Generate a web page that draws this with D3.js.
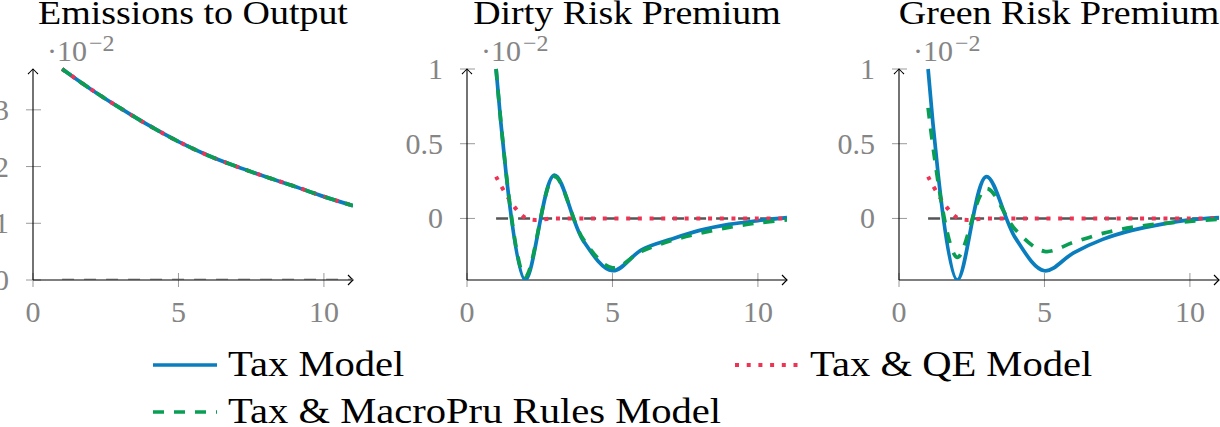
<!DOCTYPE html>
<html>
<head>
<meta charset="utf-8">
<script src="https://cdn.jsdelivr.net/npm/d3@7"></script>
<style>
  html, body { margin: 0; padding: 0; background: #fff; }
  svg { display: block; }
</style>
</head>
<body>
<svg id="chart" width="1220" height="427" font-family="'Liberation Serif', 'DejaVu Serif', serif"></svg>
<script>
// Periods after the shock
const periods = [1, 2, 3, 4, 5, 6, 7, 8, 9, 10, 11];

// Emissions to output (x 10^-2)
const emisTax = [3.72, 3.36, 3.03, 2.72, 2.44, 2.20, 2.00, 1.82, 1.65, 1.47, 1.31];
const emisQE  = [3.72, 3.36, 3.03, 2.72, 2.44, 2.20, 2.00, 1.82, 1.65, 1.47, 1.31];
const emisMP  = [3.72, 3.36, 3.03, 2.72, 2.44, 2.20, 2.00, 1.82, 1.65, 1.47, 1.31];

// Dirty risk premium (x 10^-2)
const dirtyTax = [1.00, -0.412, 0.29, -0.15, -0.35, -0.21, -0.14, -0.08, -0.04, -0.015, 0.005];
const dirtyQE  = [0.28, 0.005, 0.0, 0.0, 0.0, 0.0, 0.0, 0.0, 0.0, 0.0, 0.0];
const dirtyMP  = [1.00, -0.39, 0.28, -0.14, -0.33, -0.22, -0.15, -0.10, -0.06, -0.03, -0.01];

// Green risk premium (x 10^-2)
const greenTax = [1.00, -0.412, 0.28, -0.13, -0.35, -0.23, -0.14, -0.08, -0.04, -0.01, 0.005];
const greenQE  = [0.28, 0.005, 0.0, 0.0, 0.0, 0.0, 0.0, 0.0, 0.0, 0.0, 0.0];
const greenMP  = [0.74, -0.26, 0.20, -0.075, -0.22, -0.16, -0.10, -0.06, -0.035, -0.02, -0.005];

// Steady-state reference line
const steadyState = [0, 0, 0, 0, 0, 0, 0, 0, 0, 0, 0];

// Tick values
const xTicks = [0, 5, 10];
const yTicksEmis = [0, 1, 2, 3];
const yTicksPrem = [0, 0.5, 1];

const titles = ["Emissions to Output", "Dirty Risk Premium", "Green Risk Premium"];
const seriesNames = ["Tax Model", "Tax & QE Model", "Tax & MacroPru Rules Model"];

const panels = [
  { title: titles[0], series: [emisTax, emisQE, emisMP], yTicks: yTicksEmis, left: 33 },
  { title: titles[1], series: [dirtyTax, dirtyQE, dirtyMP], yTicks: yTicksPrem, left: 467 },
  { title: titles[2], series: [greenTax, greenQE, greenMP], yTicks: yTicksPrem, left: 899 }
];

const styles = [
  { color: "#0a7dbe", dash: null, width: 3.7 },
  { color: "#ee3355", dash: "4 7.7", width: 4 },
  { color: "#0a9e55", dash: "11 10", width: 3.7 }
];

const plotW = 320, plotTop = 69, plotBottom = 280;
const svg = d3.select("#chart");

// Text set in a slightly wider face: horizontal stretch around the anchor point
function wideText(parent, x, y, str, size, sx, anchor) {
  return parent.append("text")
    .attr("transform", `translate(${x},${y}) scale(${sx},1)`)
    .attr("text-anchor", anchor || "start")
    .attr("font-size", size)
    .attr("fill", "#000")
    .text(str);
}

// Arrow tip used on the axis lines
svg.append("defs").append("marker")
  .attr("id", "tip")
  .attr("viewBox", "-6 -6 8 12")
  .attr("markerWidth", 8).attr("markerHeight", 12)
  .attr("markerUnits", "userSpaceOnUse")
  .attr("refX", 0).attr("refY", 0)
  .attr("orient", "auto")
  .append("path")
  .attr("d", "M-5,-5 Q-1.2,-1 0,0 Q-1.2,1 -5,5")
  .attr("fill", "none").attr("stroke", "#000").attr("stroke-width", 1.1);

panels.forEach((p, i) => {
  const g = svg.append("g");
  const allVals = p.series.flat().concat(steadyState);
  const x = d3.scaleLinear().domain([0, d3.max(periods)]).range([p.left, p.left + plotW]);
  const y = d3.scaleLinear().domain(d3.extent(allVals)).range([plotBottom, plotTop]);

  const clipId = "clip" + i;
  g.append("clipPath").attr("id", clipId).append("rect")
    .attr("x", x.range()[0]).attr("y", plotTop - 2)
    .attr("width", plotW).attr("height", plotBottom - plotTop + 2);

  // Tick marks
  g.selectAll(".xt").data(xTicks).join("line")
    .attr("x1", d => x(d)).attr("x2", d => x(d))
    .attr("y1", plotBottom - 7).attr("y2", plotBottom + 7)
    .attr("stroke", "#9a9a9a").attr("stroke-width", 1);
  g.selectAll(".yt").data(p.yTicks).join("line")
    .attr("x1", p.left - 7).attr("x2", p.left + 8)
    .attr("y1", d => y(d)).attr("y2", d => y(d))
    .attr("stroke", "#9a9a9a").attr("stroke-width", 1);

  // Tick labels
  g.selectAll(".xl").data(xTicks).join("text")
    .attr("x", d => x(d)).attr("y", plotBottom + 42)
    .attr("text-anchor", "middle")
    .attr("font-size", 30).attr("fill", "#858585")
    .text(d => d3.format("~g")(d));
  g.selectAll(".yl").data(p.yTicks).join("text")
    .attr("x", p.left - 24).attr("y", d => y(d) + 10)
    .attr("text-anchor", "end")
    .attr("font-size", 30).attr("fill", "#858585")
    .text(d => d3.format("~g")(d));

  // Scale factor label
  const sc = g.append("text")
    .attr("x", p.left + 14).attr("y", 61)
    .attr("font-size", 30).attr("fill", "#858585");
  sc.append("tspan").text("·10");
  sc.append("tspan").attr("dx", 2).attr("dy", -10).attr("font-size", 24).text("−2");

  // Title
  wideText(g, p.left + plotW / 2, 24, p.title, 33, 1.15, "middle");

  // Axes with arrow tips
  g.append("line")
    .attr("x1", x(0)).attr("x2", x(d3.max(periods)))
    .attr("y1", plotBottom).attr("y2", plotBottom)
    .attr("stroke", "#000").attr("stroke-width", 1.1)
    .attr("marker-end", "url(#tip)");
  g.append("line")
    .attr("x1", p.left).attr("x2", p.left)
    .attr("y1", plotBottom).attr("y2", plotTop)
    .attr("stroke", "#000").attr("stroke-width", 1.1)
    .attr("marker-end", "url(#tip)");

  const line = d3.line()
    .x((d, k) => x(periods[k]))
    .y(d => y(d))
    .curve(d3.curveCatmullRom.alpha(0.5));

  const plot = g.append("g").attr("clip-path", `url(#${clipId})`);

  // Steady-state line
  plot.append("path")
    .attr("d", d3.line().x((d, k) => x(periods[k])).y(d => y(d))(steadyState))
    .attr("fill", "none").attr("stroke", "#555")
    .attr("stroke-width", 2.6).attr("stroke-dasharray", "12 10");

  p.series.forEach((s, k) => {
    plot.append("path")
      .attr("d", line(s))
      .attr("fill", "none")
      .attr("stroke", styles[k].color)
      .attr("stroke-width", styles[k].width)
      .attr("stroke-dasharray", styles[k].dash)
      .attr("stroke-linejoin", "round");
  });
});

// Legend
const legendItems = [
  { name: seriesNames[0], style: styles[0], x: 153, y: 365 },
  { name: seriesNames[1], style: styles[1], x: 735, y: 365 },
  { name: seriesNames[2], style: styles[2], x: 153, y: 412 }
];
const lg = svg.append("g");
legendItems.forEach(it => {
  lg.append("line")
    .attr("x1", it.x).attr("x2", it.x + 64)
    .attr("y1", it.y).attr("y2", it.y)
    .attr("stroke", it.style.color)
    .attr("stroke-width", it.style.width)
    .attr("stroke-dasharray", it.style.dash);
  wideText(lg, it.x + 75, it.y + 11, it.name, 35, 1.16, "start");
});
</script>
</body>
</html>
